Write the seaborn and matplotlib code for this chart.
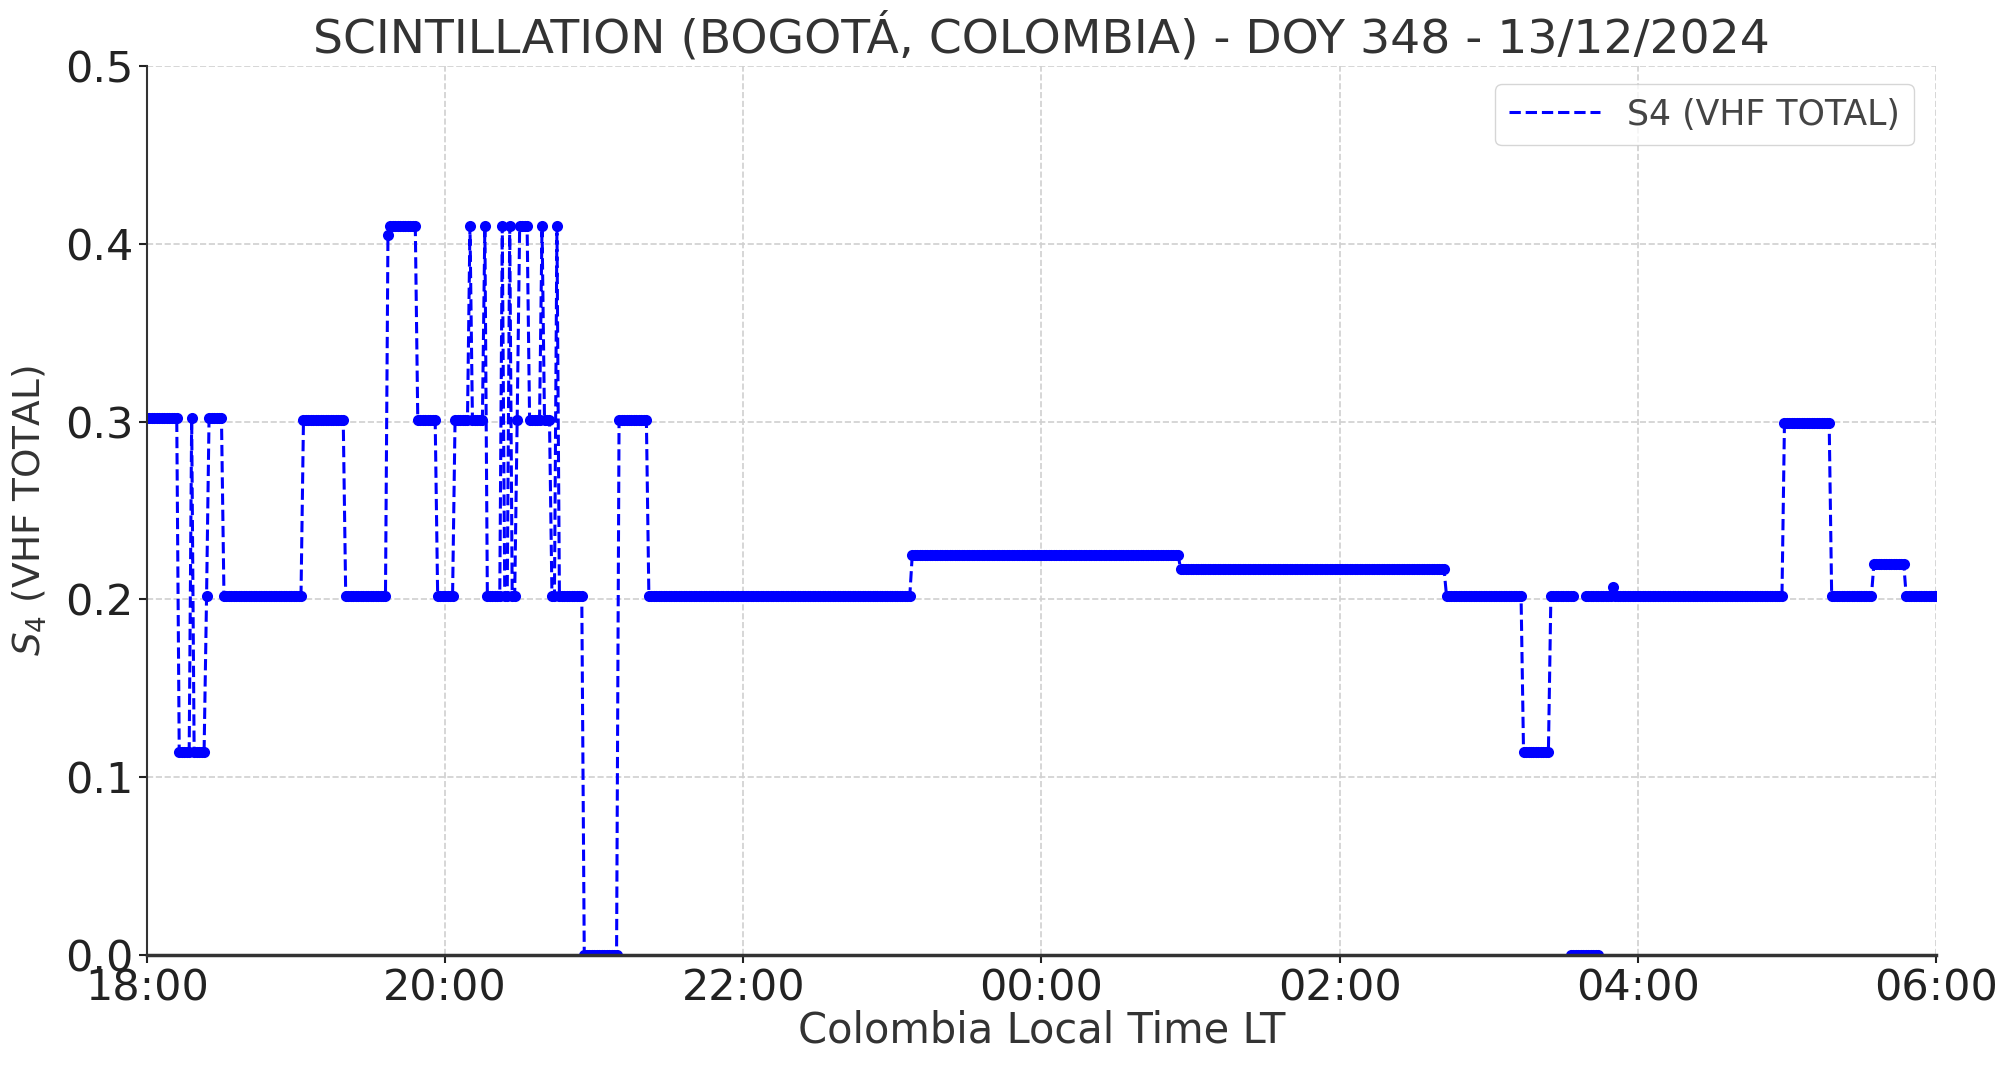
import numpy as np
import pandas as pd
import matplotlib
matplotlib.use("Agg")
import matplotlib.pyplot as plt
import matplotlib.dates as mdates
from matplotlib.lines import Line2D
import seaborn as sns

# S4 record, 1-minute samples from 18:00 LT; each run holds its value
# until the next run start (minutes after 18:00). NaN = no data.
run_start = [0, 13, 18, 19, 24, 25, 31, 63, 80, 97, 98, 109, 117, 124, 130,
             131, 136, 137, 143, 144, 146, 147, 149, 150, 154, 159, 160, 163,
             165, 166, 176, 190, 202, 308, 416, 523, 554, 565, 575, 579, 590,
             591, 659, 678, 695, 708]
run_value = [0.302, 0.114, 0.302, 0.114, 0.202, 0.302, 0.202, 0.301, 0.202,
             0.405, 0.41, 0.301, 0.202, 0.301, 0.41, 0.301, 0.41, 0.202, 0.41,
             0.202, 0.41, 0.202, 0.301, 0.41, 0.301, 0.41, 0.301, 0.202, 0.41,
             0.202, 0.0, 0.301, 0.202, 0.225, 0.217, 0.202, 0.114, 0.202,
             np.nan, 0.202, 0.207, 0.202, 0.299, 0.202, 0.22, 0.202]
end_minute = 720

# short block of zero readings near 03:35 LT
dropout_start = 573
dropout_end = 584
dropout_value = 0.0

base = pd.Timestamp("2024-12-13 18:00")
counts = np.diff(run_start + [end_minute + 1])
s4 = np.repeat(run_value, counts)
minutes = np.arange(end_minute + 1)

df = pd.DataFrame({"time": base + pd.to_timedelta(minutes, unit="m"), "s4": s4})
df["seg"] = df["s4"].isna().cumsum()
df = df.dropna()

drop = pd.DataFrame({
    "time": base + pd.to_timedelta(np.arange(dropout_start, dropout_end + 1), unit="m"),
    "s4": dropout_value,
})

sns.set_style("ticks")
plt.rcParams["font.family"] = ["DejaVu Sans"]

fig = plt.figure(figsize=(20.1, 10.75), dpi=100)
ax = fig.add_axes([0.0731, 0.1119, 0.8901, 0.8264])

style = dict(color="blue", linestyle="--", linewidth=2.2, marker="o",
             markersize=8, markeredgewidth=0)
sns.lineplot(data=df, x="time", y="s4", units="seg", estimator=None,
             ax=ax, legend=False, **style)
sns.lineplot(data=drop, x="time", y="s4", estimator=None,
             ax=ax, legend=False, **style)

ax.set_xlim(base, base + pd.Timedelta(hours=12))
ax.set_ylim(0, 0.5)
ax.set_yticks([0.0, 0.1, 0.2, 0.3, 0.4, 0.5])
ax.xaxis.set_major_locator(mdates.HourLocator(interval=2))
ax.xaxis.set_major_formatter(mdates.DateFormatter("%H:%M"))

ax.grid(True, linestyle="--", color="#d0d0d0", linewidth=1.2)
sns.despine(ax=ax)
ax.spines["left"].set_color("#333333")
ax.spines["bottom"].set_color("#333333")
ax.spines["bottom"].set_linewidth(2.5)
ax.spines["left"].set_linewidth(1.5)
ax.tick_params(axis="both", labelsize=31, colors="#222222", length=6, width=1.5)

ax.set_title("SCINTILLATION (BOGOTÁ, COLOMBIA) - DOY 348 - 13/12/2024",
             fontsize=34, color="#333333", pad=10)
ax.set_xlabel("Colombia Local Time LT", fontsize=30, color="#333333", labelpad=0)
ax.set_ylabel("$S_4$ (VHF TOTAL)", fontsize=27, color="#333333", labelpad=12)

handle = Line2D([], [], color="blue", linestyle="--", linewidth=2.2)
ax.legend([handle], ["S4 (VHF TOTAL)"], loc="upper right", fontsize=25,
          labelcolor="#444444", frameon=True, handlelength=2.6,
          bbox_to_anchor=(0.9975, 1.0))

fig.savefig("out.png", dpi=100)
